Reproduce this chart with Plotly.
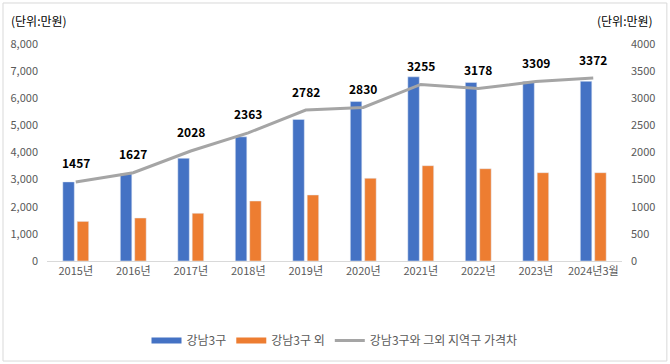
import plotly.graph_objects as go

categories = ["2015년", "2016년", "2017년", "2018년", "2019년", "2020년", "2021년", "2022년", "2023년", "2024년3월"]
gangnam3 = [2917, 3212, 3788, 4578, 5220, 5878, 6790, 6585, 6620, 6628]
outside = [1460, 1585, 1760, 2212, 2434, 3050, 3514, 3403, 3256, 3256]
gap = [1457, 1627, 2028, 2363, 2782, 2830, 3255, 3178, 3309, 3372]
names = ["강남3구", "강남3구 외", "강남3구와 그외 지역구 가격차"]
colors = ["#4472C4", "#ED7D31", "#A5A5A5"]

FONT = "Noto Sans CJK KR, Malgun Gothic, sans-serif"

fig = go.Figure()
fig.add_trace(go.Bar(x=categories, y=gangnam3, name=names[0], marker_color=colors[0],
                     showlegend=False, legendgroup="a"))
fig.add_trace(go.Bar(x=categories, y=outside, name=names[1], marker_color=colors[1],
                     showlegend=False, legendgroup="b"))
fig.add_trace(go.Scatter(x=categories, y=gap, name=names[2], yaxis="y2",
                         mode="lines", line=dict(color=colors[2], width=3), legendgroup="c",
                         showlegend=False))
# legend entries (wide rectangle swatches like the original)
for nm, col, grp, w in zip(names, colors, ["a", "b", "c"], [6, 6, 3]):
    fig.add_trace(go.Scatter(x=[None], y=[None], mode="lines", name=nm, legendgroup=grp,
                             line=dict(color=col, width=w)))

annotations = [
    dict(x=c, y=v, xref="x", yref="y2", text=f"<b>{v}</b>", showarrow=False, yshift=19,
         font=dict(size=12, color="#000000"))
    for c, v in zip(categories, gap)
]
annotations += [
    dict(text="(단위:만원)", xref="paper", yref="paper", x=-0.066, y=1.06, xanchor="left",
         yanchor="bottom", showarrow=False, font=dict(size=12, color="#000000")),
    dict(text="(단위:만원)", xref="paper", yref="paper", x=1.058, y=1.06, xanchor="right",
         yanchor="bottom", showarrow=False, font=dict(size=12, color="#000000")),
]

fig.update_layout(
    width=670, height=364,
    margin=dict(l=47, r=48, t=44, b=103, autoexpand=False),
    paper_bgcolor="white", plot_bgcolor="white",
    font=dict(family=FONT, size=11, color="#595959"),
    barmode="group", bargap=0.5, bargroupgap=0.2,
    showlegend=True,
    legend=dict(orientation="h", x=0.5, xanchor="center", y=-0.3, yanchor="top",
                font=dict(size=12, color="#595959"), traceorder="normal", itemwidth=30),
    xaxis=dict(showgrid=False, showline=True, linecolor="#D9D9D9", ticks="", automargin=False,
               tickfont=dict(size=11, color="#595959")),
    yaxis=dict(range=[0, 8000], dtick=1000, tickformat=",", showgrid=False, zeroline=False,
               showline=False, automargin=False, tickfont=dict(size=11, color="#595959"),
               ticklabelstandoff=8),
    yaxis2=dict(range=[0, 4000], dtick=500, overlaying="y", side="right", showgrid=False,
                zeroline=False, showline=False, automargin=False,
                tickfont=dict(size=11, color="#595959"), ticklabelstandoff=8),
    annotations=annotations,
    shapes=[dict(type="rect", xref="paper", yref="paper", x0=-0.0765, x1=1.078, y0=-0.461, y1=1.189,
                 line=dict(color="#D9D9D9", width=1))],
)

fig.write_html("out.html", config={"displayModeBar": False},
               post_script="document.body.style.margin='0';document.body.style.overflow='hidden';")
